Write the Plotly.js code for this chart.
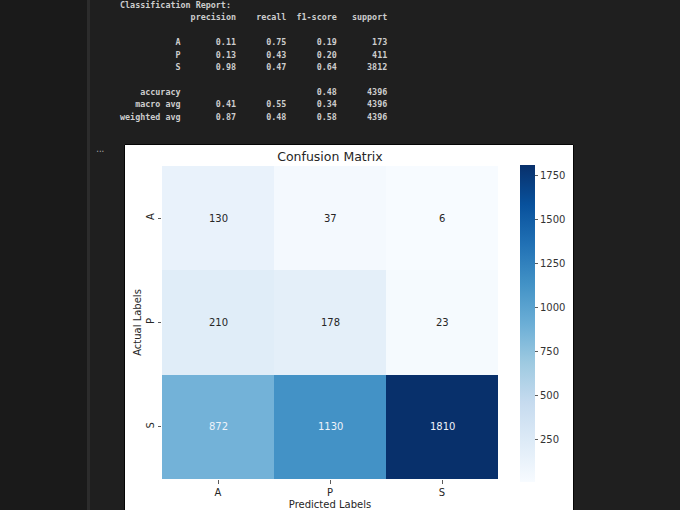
<!DOCTYPE html>
<html>
<head>
<meta charset="utf-8">
<script src="https://cdn.plot.ly/plotly-3.0.1.min.js"></script>
<style>
  html, body { margin: 0; padding: 0; width: 680px; height: 510px; overflow: hidden; background: #1f1f1f; }
  #gutter { position: absolute; left: 0; top: 0; width: 87px; height: 510px; background: #1a1a1a; }
  #rule { position: absolute; left: 87px; top: 0; width: 3px; height: 510px; background: #2c2c2c; }
  #report { position: absolute; left: 120px; top: -1px; margin: 0;
    font-family: "DejaVu Sans Mono", monospace; font-size: 8.4px; line-height: 12.4px;
    font-weight: bold; color: #cdcdcd; white-space: pre; }
  #dots { position: absolute; left: 96px; top: 143px; color: #9a9a9a;
    font-family: "DejaVu Sans", sans-serif; font-size: 10px; letter-spacing: -0.5px; }
  #frame { position: absolute; left: 125px; top: 145px; width: 448px; height: 375px;
    background: #fff; overflow: hidden;
    box-shadow: -1px 0 0 #050505, 1px 0 0 #050505, 0 -1px 0 #050505; }
</style>
</head>
<body>
<div id="gutter"></div>
<div id="rule"></div>
<pre id="report"></pre>
<div id="dots">...</div>
<div id="frame"><div id="fig"></div></div>
<script>
  // classification report values
  const classes = ['A', 'P', 'S'];
  const precision = [0.11, 0.13, 0.98];
  const recall = [0.75, 0.43, 0.47];
  const f1 = [0.19, 0.20, 0.64];
  const support = [173, 411, 3812];
  const accuracy = 0.48;
  const total = 4396;
  const macroAvg = [0.41, 0.55, 0.34];
  const weightedAvg = [0.87, 0.48, 0.58];

  // confusion matrix (rows = actual, cols = predicted)
  const predictedLabels = ['A', 'P', 'S'];
  const actualLabels = ['A', 'P', 'S'];
  const matrix = [
    [130, 37, 6],
    [210, 178, 23],
    [872, 1130, 1810]
  ];
  const cbTicks = [250, 500, 750, 1000, 1250, 1500, 1750];

  // sklearn style text
  function pad(s, w) { s = String(s); while (s.length < w) s = ' ' + s; return s; }
  function row(name, vals, sup) {
    return pad(name, 12) + ' ' + vals.map(function (v) { return ' ' + pad(v === '' ? '' : v.toFixed(2), 9); }).join('') + ' ' + pad(sup, 9);
  }
  var lines = ['Classification Report:'];
  lines.push(pad('', 12) + ' ' + [' precision', '    recall', '  f1-score', '   support'].join(''));
  lines.push('');
  classes.forEach(function (c, i) { lines.push(row(c, [precision[i], recall[i], f1[i]], support[i])); });
  lines.push('');
  lines.push(row('accuracy', ['', '', accuracy], total));
  lines.push(row('macro avg', macroAvg, total));
  lines.push(row('weighted avg', weightedAvg, total));
  document.getElementById('report').textContent = lines.join('\n');

  // matplotlib "Blues"
  const blues = ['#f7fbff', '#deebf7', '#c6dbef', '#9ecae1', '#6baed6', '#4292c6', '#2171b5', '#08519c', '#08306b'];
  const colorscale = blues.map(function (c, i) { return [i / (blues.length - 1), c]; });

  const flat = [].concat.apply([], matrix);
  const zmin = Math.min.apply(null, flat);
  const zmax = Math.max.apply(null, flat);

  // seaborn picks annotation colour from the cell's luminance
  function hexRgb(h) { return [1, 3, 5].map(function (i) { return parseInt(h.substr(i, 2), 16) / 255; }); }
  function cellRgb(v) {
    var t = (v - zmin) / (zmax - zmin) * (blues.length - 1);
    var i = Math.min(Math.floor(t), blues.length - 2), f = t - i;
    var a = hexRgb(blues[i]), b = hexRgb(blues[i + 1]);
    return a.map(function (c, k) { return c + (b[k] - c) * f; });
  }
  function lum(rgb) {
    var l = rgb.map(function (c) { return c <= 0.03928 ? c / 12.92 : Math.pow((c + 0.055) / 1.055, 2.4); });
    return 0.2126 * l[0] + 0.7152 * l[1] + 0.0722 * l[2];
  }
  const annotations = [];
  actualLabels.forEach(function (a, r) {
    predictedLabels.forEach(function (p, c) {
      var v = matrix[r][c];
      annotations.push({
        x: p, y: a, text: String(v), showarrow: false,
        font: { family: 'DejaVu Sans', size: 10, color: lum(cellRgb(v)) > 0.408 ? '#262626' : '#eef3fa' }
      });
    });
  });

  const trace = {
    type: 'heatmap',
    x: predictedLabels,
    y: actualLabels,
    z: matrix,
    zmin: zmin,
    zmax: zmax,
    colorscale: colorscale,
    colorbar: {
      x: 1.0655, xanchor: 'left', y: 0.497, yanchor: 'middle',
      thickness: 15, len: 317, lenmode: 'pixels',
      outlinewidth: 0, ticks: 'outside', ticklen: 3.5, tickwidth: 0.8, tickcolor: '#333',
      tickvals: cbTicks, tickfont: { family: 'DejaVu Sans', size: 10, color: '#333' },
      xpad: 0, ypad: 0
    }
  };

  const layout = {
    width: 490, height: 375,
    margin: { l: 37, r: 117, t: 21, b: 41 },
    paper_bgcolor: '#fff', plot_bgcolor: '#fff',
    font: { family: 'DejaVu Sans', color: '#262626' },
    title: { text: 'Confusion Matrix', font: { size: 12.5, color: '#262626' },
      x: 0.5, xref: 'paper', y: 1 - 12 / 375, yref: 'container', yanchor: 'middle' },
    xaxis: {
      title: { text: 'Predicted Labels', font: { size: 10 }, standoff: 4 },
      ticks: 'outside', ticklen: 3.5, tickwidth: 0.8, tickcolor: '#333',
      tickfont: { size: 10 }, showgrid: false, zeroline: false, showline: false
    },
    yaxis: {
      title: { text: 'Actual Labels', font: { size: 10 }, standoff: 1 },
      autorange: 'reversed',
      ticks: 'outside', ticklen: 3.5, tickwidth: 0.8, tickcolor: '#333',
      tickangle: -90, tickfont: { size: 10 }, showgrid: false, zeroline: false, showline: false
    },
    annotations: annotations
  };

  Plotly.newPlot('fig', [trace], layout, { displayModeBar: false, staticPlot: true });
</script>
</body>
</html>
